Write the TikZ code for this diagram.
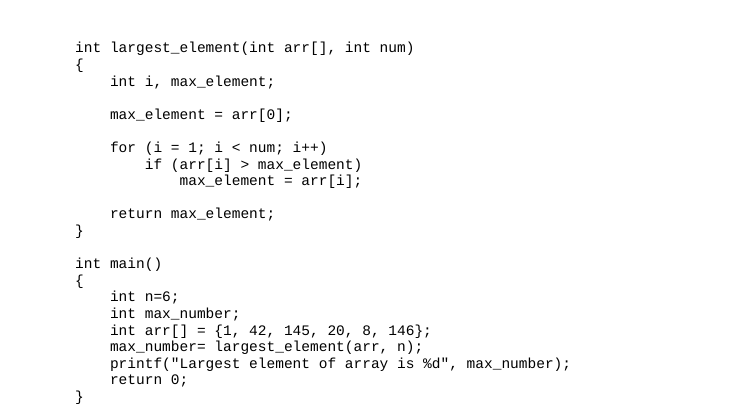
\documentclass[tikz,border=0pt]{standalone}
\usepackage{fontspec}
\setmonofont{Liberation Mono}
\begin{document}
\begin{tikzpicture}[x=1pt,y=1pt,
  code/.style={anchor=base west,inner sep=0pt,font=\ttfamily\fontsize{14.5}{16.6}\selectfont}]
\useasboundingbox (0,0) rectangle (746,414);
\fill[white] (0,0) rectangle (746,414);
\def\L#1{414-53-16.6*#1}
\node[code] (l1) at (75,{\L{0}}) {int largest\_element(int arr[], int num)};
\node[code] (l2) at (75,{\L{1}}) {\{};
\node[code] (l3) at (109.8,{\L{2}}) {int i, max\_element;};
\node[code] (l5) at (109.8,{\L{4}}) {max\_element = arr[0];};
\node[code] (l7) at (109.8,{\L{6}}) {for (i = 1; i < num; i++)};
\node[code] (l8) at (144.6,{\L{7}}) {if (arr[i] > max\_element)};
\node[code] (l9) at (179.4,{\L{8}}) {max\_element = arr[i];};
\node[code] (l11) at (109.8,{\L{10}}) {return max\_element;};
\node[code] (l12) at (75,{\L{11}}) {\}};
\node[code] (l14) at (75,{\L{13}}) {int main()};
\node[code] (l15) at (75,{\L{14}}) {\{};
\node[code] (l16) at (109.8,{\L{15}}) {int n=6;};
\node[code] (l17) at (109.8,{\L{16}}) {int max\_number;};
\node[code] (l18) at (109.8,{\L{17}}) {int arr[] = \{1, 42, 145, 20, 8, 146\};};
\node[code] (l19) at (109.8,{\L{18}}) {max\_number= largest\_element(arr, n);};
\node[code] (l20) at (109.8,{\L{19}}) {printf("Largest element of array is \%d", max\_number);};
\node[code] (l21) at (109.8,{\L{20}}) {return 0;};
\node[code] (l22) at (75,{\L{21}}) {\}};
\end{tikzpicture}
\end{document}
